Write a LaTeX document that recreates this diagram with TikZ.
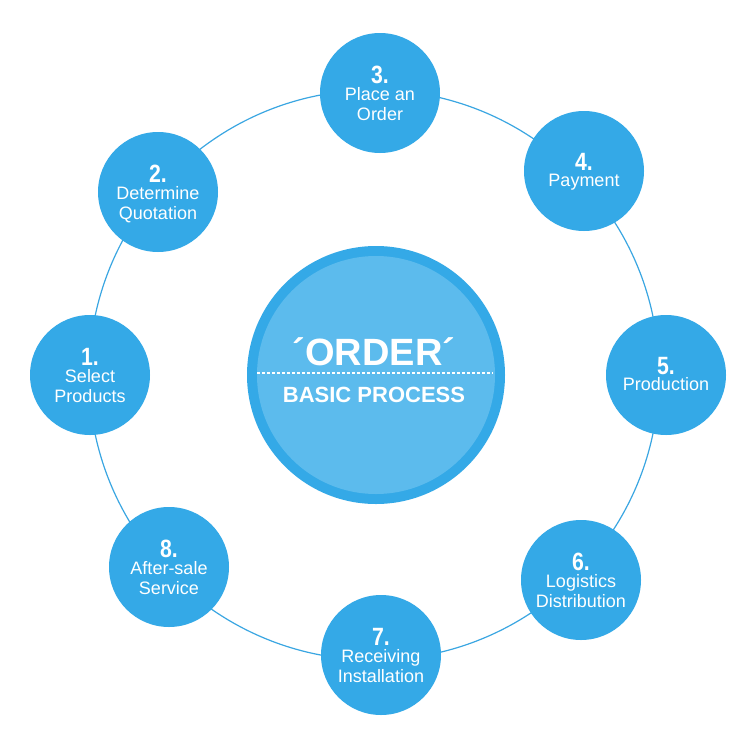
\documentclass[tikz,border=0pt]{standalone}
\usepackage{fontspec}
\setmainfont{Liberation Sans}
\newfontfamily\numfont{Liberation Sans}[FakeStretch=0.85]
\definecolor{cblue}{HTML}{34A9E7}
\definecolor{clight}{HTML}{5CBBED}
\definecolor{cring}{HTML}{3AA6E2}
\tikzset{
  stepcirc/.style={circle, fill=cblue, minimum size=120pt, inner sep=0pt},
  numtxt/.style={anchor=base, inner sep=0pt, text=white, font=\numfont\bfseries\fontsize{25}{25}\selectfont},
  steptxt/.style={anchor=base, inner sep=0pt, text=white, font=\fontsize{18}{18}\selectfont},
  bigtxt/.style={anchor=base, inner sep=0pt, text=white, font=\bfseries\fontsize{38}{38}\selectfont},
  subtxt/.style={anchor=base, inner sep=0pt, text=white, font=\bfseries\fontsize{22}{22}\selectfont},
}
\newcommand\mkstepii[6]{%
  \node[stepcirc] (#1) at (#2,#3) {};
  \node[numtxt] (#1n) at (#2,{#3-10}) {#4};
  \node[steptxt] (#1a) at (#2,{#3+7}) {#5};
  \node[steptxt] (#1b) at (#2,{#3+27}) {#6};
}
\newcommand\mkstepi[5]{%
  \node[stepcirc] (#1) at (#2,#3) {};
  \node[numtxt] (#1n) at (#2,{#3-1}) {#4};
  \node[steptxt] (#1a) at (#2,{#3+15}) {#5};
}
\begin{document}
\begin{tikzpicture}[x=1pt,y=-1pt]
\useasboundingbox (0,0) rectangle (750,750);
\fill[white] (0,0) rectangle (750,750);
% ring
\draw[cring, line width=1.2pt] (374,375) circle (285);
% center circle
\node[circle, fill=cblue, minimum size=258pt, inner sep=0pt] (core) at (376,375) {};
\node[circle, fill=clight, minimum size=238pt, inner sep=0pt] (coreIn) at (376,375) {};
\coordinate (dashL) at (257,373);
\coordinate (dashR) at (493,373);
\draw[white, line width=1.2pt, dash pattern=on 3pt off 2pt] (dashL) -- (dashR);
\node[bigtxt] (title) at (374,365) {´ORDER´};
\node[subtxt] (subtitle) at (374,402) {BASIC PROCESS};
% steps
\mkstepii{s1}{90}{375}{1.}{Select}{Products}
\mkstepii{s2}{158}{192}{2.}{Determine}{Quotation}
\mkstepii{s3}{380}{93}{3.}{Place an}{Order}
\mkstepi{s4}{584}{171}{4.}{Payment}
\mkstepi{s5}{666}{375}{5.}{Production}
\mkstepii{s6}{581}{580}{6.}{Logistics}{Distribution}
\mkstepii{s7}{381}{655}{7.}{Receiving}{Installation}
\mkstepii{s8}{169}{567}{8.}{After-sale}{Service}
\end{tikzpicture}
\end{document}
